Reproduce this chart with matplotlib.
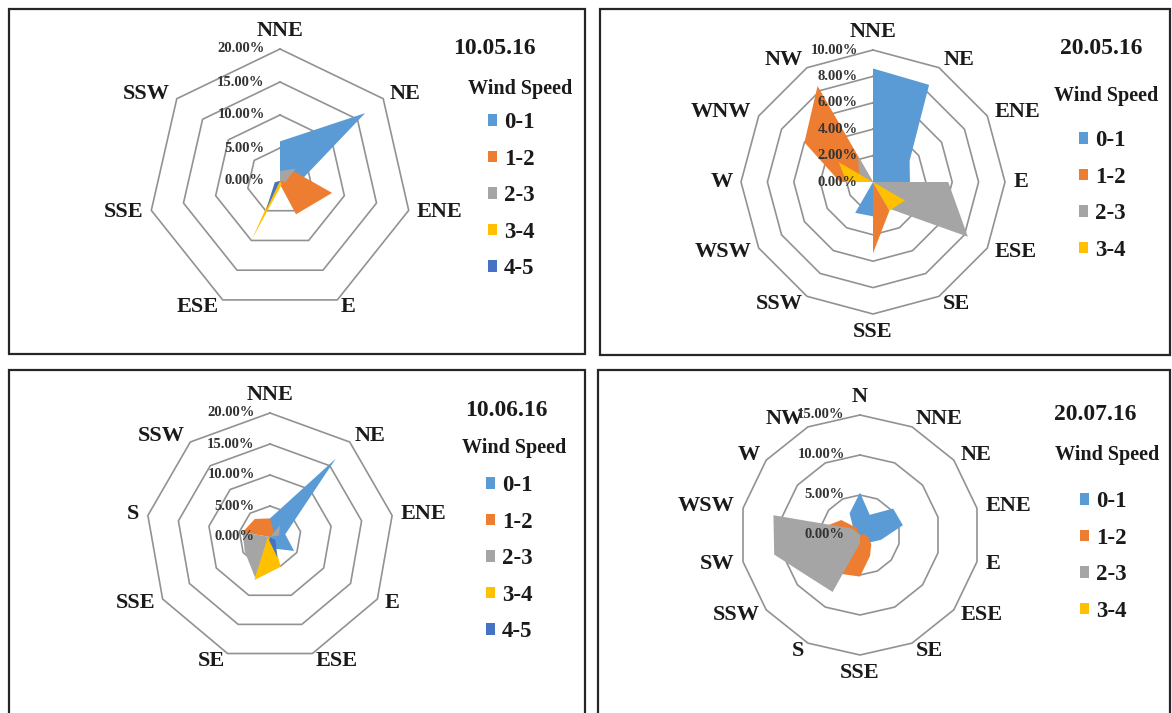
"""Wind direction / wind speed radar charts for four measurement days."""

from __future__ import annotations

import matplotlib

matplotlib.use("Agg")

import matplotlib.pyplot as plt
import numpy as np
from matplotlib.font_manager import FontProperties
from matplotlib.patches import Rectangle

FIG_W, FIG_H = 1172, 713
DPI = 100

SERIF = ["Liberation Serif", "DejaVu Serif"]

SPEED_BINS = ["0-1", "1-2", "2-3", "3-4", "4-5"]
BIN_COLORS = ["#5B9BD5", "#ED7D31", "#A5A5A5", "#FFC000", "#4472C4"]

# 10.05.16 -- frequency (%) per direction and speed bin
DIRS_100516 = ["NNE", "NE", "ENE", "E", "ESE", "SSE", "SSW"]
RINGS_100516 = [0, 5, 10, 15, 20]
WS01_100516 = [6.0, 16.5, 2.6, 0.5, 2.0, 0.3, 0.0]
WS12_100516 = [0.0, 2.5, 8.1, 5.6, 0.3, 0.0, 0.0]
WS23_100516 = [1.5, 3.0, 0.8, 0.0, 0.0, 0.0, 0.0]
WS34_100516 = [0.0, 0.0, 0.0, 0.6, 9.8, 0.3, 0.0]
WS45_100516 = [0.5, 0.0, 0.0, 0.0, 5.0, 0.8, 0.0]

# 20.05.16
DIRS_200516 = ["NNE", "NE", "ENE", "E", "ESE", "SE",
               "SSE", "SSW", "WSW", "W", "WNW", "NW"]
RINGS_200516 = [0, 2, 4, 6, 8, 10]
WS01_200516 = [8.6, 8.5, 3.2, 2.8, 0.0, 0.0, 2.6, 2.7, 0.0, 0.0, 0.0, 0.0]
WS12_200516 = [0.0, 0.0, 0.0, 0.0, 0.0, 2.5, 5.4, 0.0, 0.0, 2.5, 6.0, 8.4]
WS23_200516 = [0.0, 0.0, 0.0, 5.7, 8.3, 2.3, 0.0, 0.0, 0.0, 0.0, 1.2, 2.3]
WS34_200516 = [0.0, 0.0, 0.0, 0.0, 2.8, 2.5, 0.0, 0.0, 0.0, 2.0, 3.0, 0.0]

# 10.06.16
DIRS_100616 = ["NNE", "NE", "ENE", "E", "ESE", "SE", "SSE", "S", "SSW"]
RINGS_100616 = [0, 5, 10, 15, 20]
WS01_100616 = [3.0, 16.5, 2.5, 4.5, 2.0, 0.0, 0.0, 0.0, 0.5]
WS12_100616 = [3.0, 1.0, 0.0, 0.0, 0.0, 0.0, 0.0, 4.5, 3.8]
WS23_100616 = [0.0, 2.5, 1.5, 0.0, 0.0, 7.0, 4.7, 4.5, 0.0]
WS34_100616 = [0.0, 0.0, 0.0, 0.5, 5.1, 7.4, 0.5, 0.0, 0.0]
WS45_100616 = [0.0, 0.0, 0.0, 1.0, 3.5, 0.5, 0.0, 0.0, 0.0]

# 20.07.16
DIRS_200716 = ["N", "NNE", "NE", "ENE", "E", "ESE", "SE",
               "SSE", "S", "SSW", "SW", "WSW", "W", "NW"]
RINGS_200716 = [0, 5, 10, 15]
WS01_200716 = [5.3, 2.8, 5.3, 5.5, 2.7, 1.5, 0.5, 0.0, 0.0, 0.0, 0.0, 0.0, 1.0, 3.0]
WS12_200716 = [0.0, 0.0, 0.0, 0.5, 1.0, 1.8, 2.9, 5.2, 5.4, 3.0, 2.5, 4.6, 3.0, 1.0]
WS23_200716 = [0.0, 0.0, 0.0, 0.0, 0.0, 0.0, 0.0, 1.0, 7.9, 8.3, 11.0, 11.1, 1.3, 0.0]
WS34_200716 = [0.0] * 14

# panel layout in pixels (from the top-left corner of the figure)
PANELS = [
    dict(
        title="10.05.16",
        directions=DIRS_100516,
        rings=RINGS_100516,
        series=[WS01_100516, WS12_100516, WS23_100516, WS34_100516, WS45_100516],
        frame=(9, 9, 585, 354),
        center=(280, 181),
        radius=132,
        title_xy=(494, 48),
        subtitle_xy=(520, 89),
        legend_xy=(488, 112),
    ),
    dict(
        title="20.05.16",
        directions=DIRS_200516,
        rings=RINGS_200516,
        series=[WS01_200516, WS12_200516, WS23_200516, WS34_200516],
        frame=(600, 9, 1170, 355),
        center=(873, 182),
        radius=132,
        title_xy=(1101, 48),
        subtitle_xy=(1106, 96),
        legend_xy=(1079, 130),
    ),
    dict(
        title="10.06.16",
        directions=DIRS_100616,
        rings=RINGS_100616,
        series=[WS01_100616, WS12_100616, WS23_100616, WS34_100616, WS45_100616],
        frame=(9, 370, 585, 720),
        center=(270, 537),
        radius=124,
        title_xy=(506, 411),
        subtitle_xy=(514, 448),
        legend_xy=(486, 475),
    ),
    dict(
        title="20.07.16",
        directions=DIRS_200716,
        rings=RINGS_200716,
        series=[WS01_200716, WS12_200716, WS23_200716, WS34_200716],
        frame=(598, 370, 1170, 720),
        center=(860, 535),
        radius=120,
        title_xy=(1095, 415),
        subtitle_xy=(1107, 455),
        legend_xy=(1080, 491),
    ),
]


def _fx(x: float) -> float:
    return x / FIG_W


def _fy(y: float) -> float:
    return 1.0 - y / FIG_H


def _bold(size: float) -> FontProperties:
    return FontProperties(family=SERIF, weight="bold", size=size)


def _draw_panel(fig, panel: dict) -> None:
    x0, y0, x1, y1 = panel["frame"]
    fig.add_artist(
        Rectangle(
            (_fx(x0), _fy(y1)),
            _fx(x1) - _fx(x0),
            _fy(y0) - _fy(y1),
            transform=fig.transFigure,
            fill=False,
            edgecolor="#262626",
            linewidth=1.6,
        )
    )

    cx, cy = panel["center"]
    radius = panel["radius"]
    axis = fig.add_axes(
        [_fx(cx - radius), _fy(cy + radius), 2 * radius / FIG_W, 2 * radius / FIG_H],
        projection="polar",
    )
    axis.set_theta_zero_location("N")
    axis.set_theta_direction(-1)
    axis.grid(False)
    axis.set_xticks([])
    axis.set_yticks([])
    axis.spines["polar"].set_visible(False)
    axis.patch.set_alpha(0)

    directions = panel["directions"]
    rings = panel["rings"]
    rmax = rings[-1]
    angles = np.arange(len(directions)) * 2 * np.pi / len(directions)
    closed = np.append(angles, angles[0])
    axis.set_ylim(0, rmax)

    # polygonal gridlines
    for level in rings[1:]:
        axis.plot(
            closed,
            np.full(closed.size, level),
            color="#929292",
            linewidth=1.2,
            zorder=1,
            clip_on=False,
        )

    handles = []
    for values, color in zip(panel["series"], BIN_COLORS):
        values = np.asarray(values, dtype=float)
        (patch,) = axis.fill(
            closed,
            np.append(values, values[0]),
            color=color,
            linewidth=0,
            zorder=2,
        )
        handles.append(patch)

    for level in rings:
        axis.annotate(
            f"{level:.2f}%",
            xy=(0, level),
            xytext=(-11, 0),
            textcoords="offset points",
            ha="right",
            va="center",
            fontproperties=_bold(10.5),
            color="#333333",
            zorder=4,
        )

    for angle, name in zip(angles, directions):
        s, c = np.sin(angle), np.cos(angle)
        ha = "left" if s > 0.2 else "right" if s < -0.2 else "center"
        va = "bottom" if c > 0.95 else "top" if c < -0.95 else "center"
        axis.annotate(
            name,
            xy=(angle, rmax),
            xytext=(6 * s, 6 * c),
            textcoords="offset points",
            ha=ha,
            va=va,
            fontproperties=_bold(16),
            color="#1a1a1a",
        )

    fig.text(
        _fx(panel["title_xy"][0]),
        _fy(panel["title_xy"][1]),
        panel["title"],
        ha="center",
        va="center",
        fontproperties=_bold(17),
        color="#1a1a1a",
    )
    fig.text(
        _fx(panel["subtitle_xy"][0]),
        _fy(panel["subtitle_xy"][1]),
        "Wind Speed",
        ha="center",
        va="center",
        fontproperties=_bold(14.5),
        color="#1a1a1a",
    )

    lx, ly = panel["legend_xy"]
    axis.legend(
        handles,
        SPEED_BINS[: len(handles)],
        loc="upper left",
        bbox_to_anchor=(_fx(lx), _fy(ly)),
        bbox_transform=fig.transFigure,
        frameon=False,
        prop=_bold(16.5),
        handlelength=0.4,
        handleheight=0.4,
        handletextpad=0.3,
        labelspacing=0.68,
        borderpad=0,
        borderaxespad=0,
        labelcolor="#1a1a1a",
    )


def build_figure(output_path: str = "out.png") -> None:
    figure = plt.figure(figsize=(FIG_W / DPI, FIG_H / DPI), dpi=DPI)
    figure.patch.set_facecolor("white")

    for panel in PANELS:
        _draw_panel(figure, panel)

    figure.savefig(output_path, dpi=DPI, facecolor="white")
    plt.close(figure)


if __name__ == "__main__":
    build_figure()
